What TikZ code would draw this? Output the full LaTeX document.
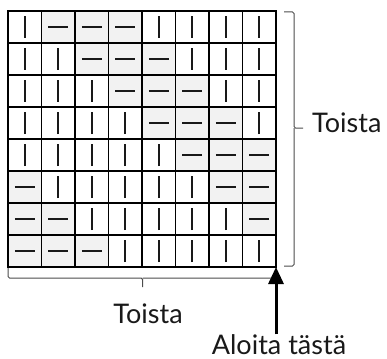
\documentclass[tikz,border=0pt]{standalone}
\usepackage{fontspec}
\setmainfont{Lato}
\usetikzlibrary{arrows.meta,calc}
\definecolor{cellgray}{HTML}{F2F2F2}
\begin{document}
\begin{tikzpicture}[x=1pt,y=-1pt,
  cellbox/.style={minimum width=33.5pt,minimum height=32pt,inner sep=0pt,outer sep=0pt},
  cellline/.style={line width=1.8pt,draw=black},
  markline/.style={line width=2.2pt,draw=black!90},
  bracket/.style={line width=1pt,draw=black!70,rounded corners=1.5pt},
  lbl/.style={font=\fontsize{27}{32}\selectfont,inner sep=0pt,text=black!90},
  pointer/.style={line width=3pt,draw=black,-{Triangle[width=15pt,length=17pt]}}]
\useasboundingbox (0,0) rectangle (387,358);
% cells
\foreach \r in {1,...,8} {
  \foreach \c in {1,...,8} {
    \pgfmathtruncatemacro{\k}{mod(\c-\r+8,8)}
    \pgfmathtruncatemacro{\h}{and(\k>0,\k<4)}
    \pgfmathsetmacro{\cx}{8+33.5*(\c-0.5)}
    \pgfmathsetmacro{\cy}{11+32*(\r-0.5)}
    \ifnum\h=1
      \node[cellbox,fill=cellgray] (c-\r-\c) at (\cx,\cy) {};
    \else
      \node[cellbox] (c-\r-\c) at (\cx,\cy) {};
    \fi
  }
}
\foreach \r in {1,...,8} {
  \foreach \c in {1,...,8} {
    \pgfmathtruncatemacro{\k}{mod(\c-\r+8,8)}
    \pgfmathtruncatemacro{\h}{and(\k>0,\k<4)}
    \draw[cellline] (c-\r-\c.north west) rectangle (c-\r-\c.south east);
    \ifnum\h=1
      \draw[markline] ([xshift=-10pt]c-\r-\c.center) -- ([xshift=10pt]c-\r-\c.center);
    \else
      \draw[markline] ([yshift=-11pt]c-\r-\c.center) -- ([yshift=11pt]c-\r-\c.center);
    \fi
  }
}
% labels
\node[lbl,anchor=base west] (toistaR) at (312,132) {Toista};
\node[lbl,anchor=base] (toistaB) at (148,323) {Toista};
\node[lbl,anchor=base] (start) at (279,354.5) {Aloita tästä};
% braces
\draw[bracket] (284,12) -| (294,128) -- (303,128);
\draw[bracket] (294,128) |- (284,266);
\draw[bracket] (8,268) |- (142.7,278) -- (142.7,287);
\draw[bracket] (142.7,278) -| (276,268);
% arrow
\draw[pointer] (c-8-8.south east |- start.north) -- (c-8-8.south east);
\end{tikzpicture}
\end{document}
